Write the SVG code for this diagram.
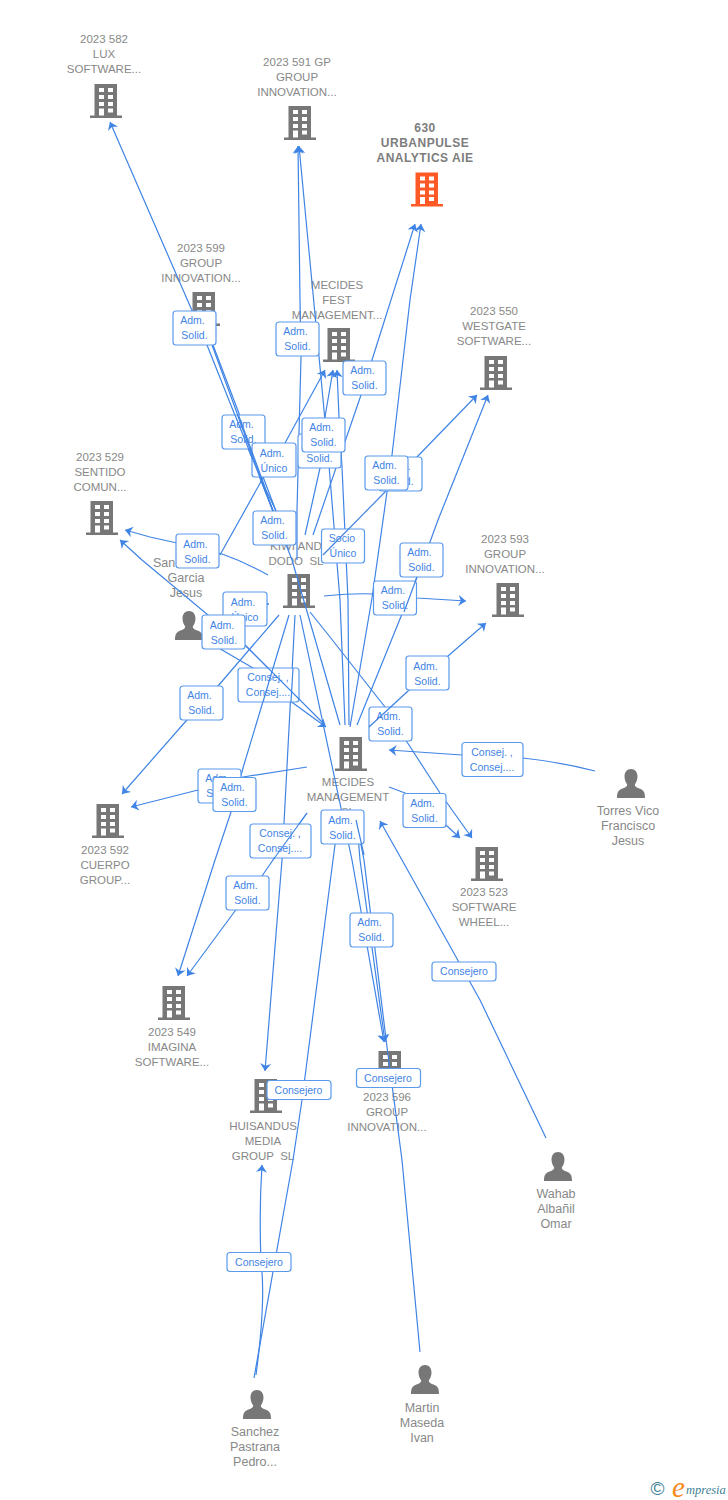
<svg xmlns="http://www.w3.org/2000/svg" xmlns:xlink="http://www.w3.org/1999/xlink" width="728" height="1500" viewBox="0 0 728 1500">
<style>
text{font-family:"Liberation Sans",Arial,sans-serif}
.n{font-size:11.5px;fill:#888;text-anchor:middle;white-space:pre}
.p{font-size:12.5px;fill:#888;text-anchor:middle}
.nb{font-size:12px;font-weight:bold;fill:#7d7d7d;text-anchor:middle;letter-spacing:.5px}
.l{font-size:10.5px;fill:#3f84e5;text-anchor:middle}
.b{fill:#fff;stroke:#5a9aec;stroke-width:1.2}
.e{fill:none;stroke:#3f84e5;stroke-width:1.2;stroke-linejoin:round}
.a{marker-end:url(#arr)}
</style>
<defs>
<marker id="arr" markerUnits="userSpaceOnUse" markerWidth="14" markerHeight="14" refX="10" refY="7" orient="auto"><path d="M10,7 L2.500,1.500 L4.800,7 L2.500,12.500 Z" fill="#3f84e5"/></marker>
<symbol id="bld" width="33" height="34" viewBox="0 0 33 34" overflow="visible">
<path fill="currentColor" d="M4.500,0H27V31.500H32V34H0V31.500H4.500Z"/>
<g fill="#fff"><rect x="9" y="4" width="5" height="4"/><rect x="18" y="4" width="5" height="4"/><rect x="9" y="11" width="5" height="4"/><rect x="18" y="11" width="5" height="4"/><rect x="9" y="18" width="5" height="4"/><rect x="18" y="18" width="5" height="4"/><rect x="9" y="24.500" width="5" height="7"/><rect x="18" y="24.500" width="5" height="4"/></g>
</symbol>
<symbol id="per" width="28" height="29" viewBox="0 0 28 29" overflow="visible">
<path fill="#777" d="M14,0C18,0 20.500,3 20.500,7.500C20.500,11 19,14 17.800,15.500C17.800,18 20,18.500 23,19.700C26.500,21 28,23 28,29H0C0,23 1.500,21 5,19.700C8,18.500 10.200,18 10.200,15.500C9,14 7.500,11 7.500,7.500C7.500,3 10,0 14,0Z"/>
</symbol>
</defs>
<rect width="728" height="1500" fill="#fff"/>
<g id="node-582"><text class="n" x="104" y="43">2023 582</text><text class="n" x="104" y="58">LUX</text><text class="n" x="104" y="73">SOFTWARE...</text><use xlink:href="#bld" href="#bld" x="90" y="84" color="#777"/></g>
<g id="node-591"><text class="n" x="297" y="66">2023 591 GP</text><text class="n" x="297" y="81">GROUP</text><text class="n" x="297" y="96">INNOVATION...</text><use href="#bld" x="284" y="106" color="#777"/></g>
<g id="node-630"><text class="nb" x="425" y="132">630</text><text class="nb" x="425" y="147">URBANPULSE</text><text class="nb" x="425" y="162">ANALYTICS AIE</text><use href="#bld" x="411" y="172.500" color="#ff5a26"/></g>
<g id="node-599"><text class="n" x="201" y="252">2023 599</text><text class="n" x="201" y="267">GROUP</text><text class="n" x="201" y="282">INNOVATION...</text><use href="#bld" x="188" y="292" color="#777"/></g>
<g id="node-fest"><text class="n" x="337" y="289">MECIDES</text><text class="n" x="337" y="304">FEST</text><text class="n" x="337" y="319">MANAGEMENT...</text><use href="#bld" x="323" y="328" color="#777"/></g>
<g id="node-550"><text class="n" x="494" y="315">2023 550</text><text class="n" x="494" y="330">WESTGATE</text><text class="n" x="494" y="345">SOFTWARE...</text><use href="#bld" x="480" y="356" color="#777"/></g>
<g id="node-529"><text class="n" x="100" y="461">2023 529</text><text class="n" x="100" y="476">SENTIDO</text><text class="n" x="100" y="491">COMUN...</text><use href="#bld" x="86" y="501" color="#777"/></g>
<g id="node-sanc"><text class="p" x="153" y="567" style="text-anchor:start">San</text><text class="p" x="186" y="582">Garcia</text><text class="p" x="186" y="597">Jesus</text><use href="#per" x="175" y="611"/></g>
<g id="node-kiwi"><text class="n" x="296" y="550">KIWI AND</text><text class="n" x="296" y="565">DODO  SL</text><use href="#bld" x="283" y="574" color="#777"/></g>
<g id="node-593"><text class="n" x="505" y="543">2023 593</text><text class="n" x="505" y="558">GROUP</text><text class="n" x="505" y="573">INNOVATION...</text><use href="#bld" x="492" y="583" color="#777"/></g>
<g id="node-mecides"><use href="#bld" x="335" y="737" color="#777"/><text class="n" x="348" y="786">MECIDES</text><text class="n" x="348" y="801">MANAGEMENT</text><text class="n" x="348" y="816">SL</text></g>
<g id="node-torres"><use href="#per" x="617" y="769"/><text class="p" x="628" y="815">Torres Vico</text><text class="p" x="628" y="830">Francisco</text><text class="p" x="628" y="845">Jesus</text></g>
<g id="node-592"><use href="#bld" x="92" y="804" color="#777"/><text class="n" x="105" y="854">2023 592</text><text class="n" x="105" y="869">CUERPO</text><text class="n" x="105" y="884">GROUP...</text></g>
<g id="node-523"><use href="#bld" x="471" y="847" color="#777"/><text class="n" x="484" y="896">2023 523</text><text class="n" x="484" y="911">SOFTWARE</text><text class="n" x="484" y="926">WHEEL...</text></g>
<g id="node-549"><use href="#bld" x="158" y="986" color="#777"/><text class="n" x="172" y="1036">2023 549</text><text class="n" x="172" y="1051">IMAGINA</text><text class="n" x="172" y="1066">SOFTWARE...</text></g>
<g id="node-huisandus"><use href="#bld" x="250" y="1079" color="#777"/><text class="n" x="263" y="1130">HUISANDUS</text><text class="n" x="263" y="1145">MEDIA</text><text class="n" x="263" y="1160">GROUP  SL</text></g>
<g id="node-596"><use href="#bld" x="374" y="1051" color="#777"/><text class="n" x="387" y="1101">2023 596</text><text class="n" x="387" y="1116">GROUP</text><text class="n" x="387" y="1131">INNOVATION...</text></g>
<g id="node-wahab"><use href="#per" x="544" y="1152"/><text class="p" x="556" y="1198">Wahab</text><text class="p" x="556" y="1213">Albañil</text><text class="p" x="556" y="1228">Omar</text></g>
<g id="node-sanchez"><use href="#per" x="243" y="1390"/><text class="p" x="255" y="1436">Sanchez</text><text class="p" x="255" y="1451">Pastrana</text><text class="p" x="255" y="1466">Pedro...</text></g>
<g id="node-martin"><use href="#per" x="411" y="1365"/><text class="p" x="422" y="1412">Martin</text><text class="p" x="422" y="1427">Maseda</text><text class="p" x="422" y="1442">Ivan</text></g>

<g id="connectors">
<path class="e a" d="M340,725L292,560L273,511L207,345L110,122"/>
<path class="e a" d="M273,511L212,345L204,325"/>
<path class="e a" d="M276,511L213,345L206,325"/>
<path class="e a" d="M297,560L297,510L301,357L300,300L298,146"/>
<path class="e a" d="M345,725L340,600L328,453L320,367L299,146"/>
<path class="e a" d="M313,535L361,395L372,360L415,224"/>
<path class="e a" d="M350,727L372,598L387,492L392,455L410,300L421,224"/>
<path class="e a" d="M220,555L263,478L285,443L325,370"/>
<path class="e a" d="M305,535L320,468L325,417L333,370"/>
<path class="e a" d="M349,725L348,600L342,467L339,417L337,370"/>
<path class="e a" d="M385,492L417,457L477,395"/>
<path class="e a" d="M357,725L417,577L430,542L438,520L488,395"/>
<path class="e a" d="M324,596Q355,593 373,594L417,598L466,601"/>
<path class="e a" d="M408,691L448,656L486,623"/>
<path class="e a" d="M268,575Q245,562 222,554L177,543L150,537L125,530"/>
<path class="e a" d="M325,725L246,646L208,615L142,560L120,540"/>
<path class="e a" d="M279,615L218,686L186,721L122,794"/>
<path class="e a" d="M307,767L243,777L198,790L131,807"/>
<path class="e a" d="M289,615L243,768L231,812L215,860L178,976"/>
<path class="e a" d="M307,813L273,860L262,876L235,911L187,976"/>
<path class="e a" d="M295,615L284,823L282,860L265,1071"/>
<path class="e a" d="M205,640L253,668L293,703L326,727"/>
<path class="e a" d="M256,1375Q266,1300 261,1262Q259,1210 262,1165"/>
<path class="e" d="M254,1378L293,1160L302,1100L333,860L337,830"/>
<path class="e a" d="M300,615L352,860L384,1042"/>
<path class="e a" d="M358,835L360,860L385,1042"/>
<path class="e" d="M420,1352L402,1160L387,1047L364,860L356,820"/>
<path class="e a" d="M389,787L405,793L447,826L460,838"/>
<path class="e a" d="M310,612L330,637L385,707L407,742L440,793L472,838"/>
<path class="e a" d="M595,771Q560,762 523,758L462,755L389,750"/>
<path class="e a" d="M546,1138L480,1000L402,860L380,821"/>
<path class="e a" d="M258,604L269,604"/>
</g>

<g id="labels">
<g><rect class="b" x="173" y="311" width="43" height="34" rx="3"/><text class="l" x="192.500" y="324">Adm.</text><text class="l" x="194.500" y="339">Solid.</text></g>
<g><rect class="b" x="276" y="322" width="43" height="34" rx="3"/><text class="l" x="295.500" y="335">Adm.</text><text class="l" x="297.500" y="350">Solid.</text></g>
<g><rect class="b" x="343" y="361" width="43" height="34" rx="3"/><text class="l" x="362.500" y="374">Adm.</text><text class="l" x="364.500" y="389">Solid.</text></g>
<g><rect class="b" x="222" y="415" width="43" height="34" rx="3"/><text class="l" x="241.500" y="428">Adm.</text><text class="l" x="243.500" y="443">Solid.</text></g>
<g><rect class="b" x="252" y="443" width="44" height="34" rx="3"/><text class="l" x="272" y="457">Adm.</text><text class="l" x="274" y="472">Único</text></g>
<g><rect class="b" x="298" y="434" width="43" height="34" rx="3"/><text class="l" x="319.500" y="462">Solid.</text></g>
<g><rect class="b" x="302" y="418" width="43" height="34" rx="3"/><text class="l" x="321.500" y="431">Adm.</text><text class="l" x="323.500" y="446">Solid.</text></g>
<g><rect class="b" x="379" y="457" width="43" height="34" rx="3"/><text class="l" x="398.500" y="470">Adm.</text><text class="l" x="400.500" y="485">Solid.</text></g>
<g><rect class="b" x="365" y="456" width="43" height="34" rx="3"/><text class="l" x="384.500" y="469">Adm.</text><text class="l" x="386.500" y="484">Solid.</text></g>
<g><rect class="b" x="253" y="511" width="43" height="34" rx="3"/><text class="l" x="272.500" y="524">Adm.</text><text class="l" x="274.500" y="539">Solid.</text></g>
<g><rect class="b" x="321.500" y="529" width="43" height="34" rx="3"/><text class="l" x="342" y="542">Socio</text><text class="l" x="343" y="557">Único</text></g>
<g><rect class="b" x="176" y="534" width="43" height="34" rx="3"/><text class="l" x="195.500" y="548">Adm.</text><text class="l" x="197.500" y="563">Solid.</text></g>
<g><rect class="b" x="400" y="543" width="43" height="34" rx="3"/><text class="l" x="419.500" y="556">Adm.</text><text class="l" x="421.500" y="571">Solid.</text></g>
<g><rect class="b" x="373.500" y="581" width="43" height="34" rx="3"/><text class="l" x="393" y="594">Adm.</text><text class="l" x="395" y="609">Solid.</text></g>
<g><rect class="b" x="223" y="592" width="44" height="34" rx="3"/><text class="l" x="243" y="606">Adm.</text><text class="l" x="245" y="621">Único</text></g>
<g><rect class="b" x="202" y="615" width="43" height="34" rx="3"/><text class="l" x="222" y="629">Adm.</text><text class="l" x="224" y="644">Solid.</text></g>
<g><rect class="b" x="238" y="668" width="61" height="34" rx="3"/><text class="l" x="268" y="681">Consej. ,</text><text class="l" x="268" y="696">Consej....</text></g>
<g><rect class="b" x="180" y="686" width="43" height="34" rx="3"/><text class="l" x="199.500" y="699">Adm.</text><text class="l" x="201.500" y="714">Solid.</text></g>
<g><rect class="b" x="406" y="656" width="43" height="34" rx="3"/><text class="l" x="425.500" y="670">Adm.</text><text class="l" x="427.500" y="685">Solid.</text></g>
<g><rect class="b" x="369" y="707" width="43" height="34" rx="3"/><text class="l" x="388.500" y="720">Adm.</text><text class="l" x="390.500" y="735">Solid.</text></g>
<g><rect class="b" x="462" y="742.500" width="61" height="34" rx="3"/><text class="l" x="492" y="756">Consej. ,</text><text class="l" x="492" y="771">Consej....</text></g>
<g><rect class="b" x="198" y="769" width="43" height="34" rx="3"/><text class="l" x="217.500" y="782">Adm.</text><text class="l" x="219.500" y="797">Solid.</text></g>
<g><rect class="b" x="213" y="777.500" width="43" height="34" rx="3"/><text class="l" x="232.500" y="791">Adm.</text><text class="l" x="234.500" y="806">Solid.</text></g>
<g><rect class="b" x="403" y="793.500" width="43" height="34" rx="3"/><text class="l" x="422.500" y="807">Adm.</text><text class="l" x="424.500" y="822">Solid.</text></g>
<g><rect class="b" x="321" y="810" width="43" height="34" rx="3"/><text class="l" x="340.500" y="824">Adm.</text><text class="l" x="342.500" y="839">Solid.</text></g>
<g><rect class="b" x="250" y="824" width="61" height="34" rx="3"/><text class="l" x="280" y="837">Consej. ,</text><text class="l" x="280" y="852">Consej....</text></g>
<g><rect class="b" x="226" y="876" width="43" height="34" rx="3"/><text class="l" x="245.500" y="889">Adm.</text><text class="l" x="247.500" y="904">Solid.</text></g>
<g><rect class="b" x="350" y="913" width="43" height="34" rx="3"/><text class="l" x="369.500" y="926">Adm.</text><text class="l" x="371.500" y="941">Solid.</text></g>
<g><rect class="b" x="432" y="962" width="64" height="19" rx="3"/><text class="l" x="464" y="975">Consejero</text></g>
<g><rect class="b" x="267" y="1080.500" width="64" height="19" rx="3"/><text class="l" x="298.500" y="1094">Consejero</text></g>
<g><rect class="b" x="356.500" y="1068.500" width="64" height="19" rx="3"/><text class="l" x="388" y="1082">Consejero</text></g>
<g><rect class="b" x="227" y="1252.500" width="64" height="19" rx="3"/><text class="l" x="259" y="1266">Consejero</text></g>
</g>

<g id="connectors-over">
<path class="e" d="M235,415L261,480L273,511"/>
<path class="e" d="M237.500,415L265,490L273,511"/>
<path class="e" d="M238.500,415L266,490L276,511"/>
<path class="e" d="M385,492L323,555"/>
<path class="e" d="M417,577L404,612"/>
<path class="e" d="M408,691L369,727"/>
<path class="e" d="M246,646L300,700"/>
<path class="e" d="M273,668L263,702"/>
<path class="e" d="M293,668L291,702"/>
<path class="e" d="M307,813L273,860"/>
<path class="e" d="M356,820L364,855"/>
</g>

<g id="logo"><text x="657.500" y="1495" font-size="19" fill="#3f7f96" text-anchor="middle">©</text><text x="672" y="1497" font-size="29" fill="#f58a1f" style="font-family:'Liberation Serif',serif;font-style:italic">e</text><text x="686" y="1494" font-size="12.500" fill="#3f7f96" style="font-family:'Liberation Serif',serif;font-style:italic">mpresia</text></g>
</svg>
